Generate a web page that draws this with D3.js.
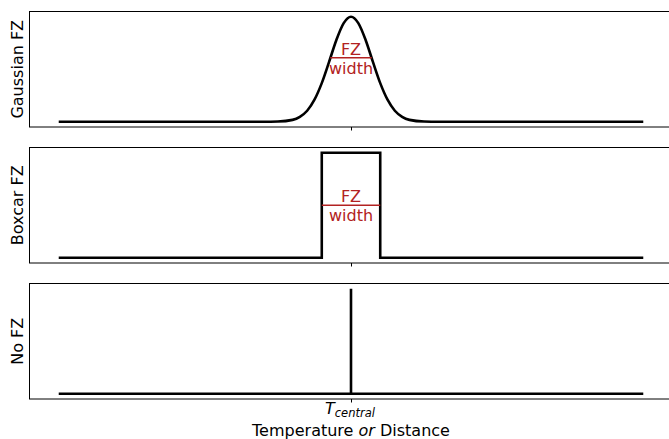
<!DOCTYPE html>
<html>
<head>
<meta charset="utf-8">
<script src="https://cdn.jsdelivr.net/npm/d3@7"></script>
<style>
  body { margin: 0; background: #fff; }
  svg { display: block; font-family: "DejaVu Sans", sans-serif; }
</style>
</head>
<body>
<svg width="669" height="439"></svg>
<script>
const width = 669;
const height = 439;

// panel names (y labels)
const panelLabels = ["Gaussian FZ", "Boxcar FZ", "No FZ"];

// gaussian profile
const gaussX = [-10, -3, -2.5, -2, -1.75, -1.5, -1.25, -1, -0.75, -0.5, -0.25, 0,
                0.25, 0.5, 0.75, 1, 1.25, 1.5, 1.75, 2, 2.5, 3, 10];
const gaussY = [0, 0, 0.002, 0.018, 0.047, 0.105, 0.21, 0.368, 0.57, 0.779, 0.939, 1,
                0.939, 0.779, 0.57, 0.368, 0.21, 0.105, 0.047, 0.018, 0.002, 0, 0];

// boxcar profile
const boxX = [-10, -1, -1, 1, 1, 10];
const boxY = [0, 0, 1, 1, 0, 0];

// delta spike
const spikeX = [-10, 0, 0, 0, 10];
const spikeY = [0, 0, 1, 0, 0];

// red "FZ width" markers: [x0, x1, y]
const widthMarks = [[-0.71, 0.71, 0.61], [-1, 1, 0.5], null];

const tickValues = [0];

const series = [
    { xs: gaussX, ys: gaussY, curve: d3.curveMonotoneX },
    { xs: boxX, ys: boxY, curve: d3.curveLinear },
    { xs: spikeX, ys: spikeY, curve: d3.curveLinear }
];

const left = 29.5;
const right = 672.5;
const panelTops = [11.5, 147.5, 283.5];
const panelH = 115.5;

const x = d3.scaleLinear().domain([-11, 11]).range([left, right]);

const svg = d3.select("svg")
    .attr("viewBox", [0, 0, width, height]);

series.forEach((s, i) => {
    const top = panelTops[i];
    const y = d3.scaleLinear().domain([-0.05, 1.05]).range([top + panelH, top]);
    const g = svg.append("g");

    const pts = s.xs.map((v, j) => [v, s.ys[j]]);
    const line = d3.line()
        .x(d => x(d[0]))
        .y(d => y(d[1]))
        .curve(s.curve);

    g.append("path")
        .datum(pts)
        .attr("fill", "none")
        .attr("stroke", "#000")
        .attr("stroke-width", 2.6)
        .attr("stroke-linejoin", "miter")
        .attr("d", line);

    const m = widthMarks[i];
    if (m) {
        g.append("line")
            .attr("x1", x(m[0])).attr("x2", x(m[1]))
            .attr("y1", y(m[2])).attr("y2", y(m[2]))
            .attr("stroke", "#b22222")
            .attr("stroke-width", 1.6);
        g.append("text")
            .attr("x", x(0)).attr("y", y(m[2]) - 3)
            .attr("text-anchor", "middle")
            .attr("fill", "#b22222")
            .attr("font-size", 16)
            .text("FZ");
        g.append("text")
            .attr("x", x(0)).attr("y", y(m[2]) + 16)
            .attr("text-anchor", "middle")
            .attr("fill", "#b22222")
            .attr("font-size", 16)
            .text("width");
    }

    // frame
    g.append("rect")
        .attr("x", left).attr("y", top)
        .attr("width", right - left).attr("height", panelH)
        .attr("fill", "none")
        .attr("stroke", "#000")
        .attr("stroke-width", 1);

    // x tick
    const ax = g.append("g")
        .attr("transform", `translate(0,${top + panelH})`)
        .call(d3.axisBottom(x).tickValues(tickValues).tickSize(3.5).tickFormat(""));
    ax.select(".domain").remove();

    // y label
    g.append("text")
        .attr("transform", `translate(23,${top + panelH / 2}) rotate(-90)`)
        .attr("text-anchor", "middle")
        .attr("font-size", 16)
        .text(panelLabels[i]);
});

// tick label
const tl = svg.append("text")
    .attr("x", x(0) - 1).attr("y", 414)
    .attr("text-anchor", "middle")
    .attr("font-size", 16)
    .attr("font-style", "italic");
tl.append("tspan").text("T");
tl.append("tspan").attr("font-size", 11.5).attr("dy", 2.5).text("central");

// x label
const xl = svg.append("text")
    .attr("x", x(0)).attr("y", 436)
    .attr("text-anchor", "middle")
    .attr("font-size", 16);
xl.append("tspan").text("Temperature ");
xl.append("tspan").attr("font-style", "italic").text("or");
xl.append("tspan").text(" Distance");
</script>
</body>
</html>
